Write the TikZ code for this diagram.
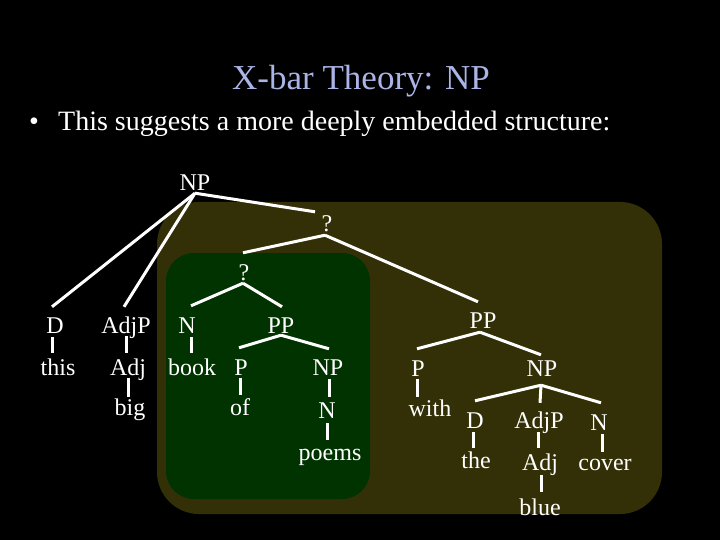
\documentclass[tikz,border=0pt]{standalone}
\usepackage{fontspec}
\setmainfont{Liberation Serif}
\definecolor{olivebox}{RGB}{51,48,8}
\definecolor{greenbox}{RGB}{0,51,0}
\definecolor{titlecol}{RGB}{170,180,230}
\begin{document}
\begin{tikzpicture}[x=1pt,y=-1pt,
  lab/.style={text=white, font=\fontsize{24}{28}\selectfont, inner sep=0pt, text height=16pt, text depth=0pt, anchor=base},
  br/.style={draw=white, line width=3pt}]
\fill[black] (0,0) rectangle (720,540);
\useasboundingbox (0,0) rectangle (720,540);
% boxes
\fill[olivebox, rounded corners=42pt] (157,202) rectangle (662,514);
\fill[greenbox, rounded corners=28pt] (166,253) rectangle (370,499);
% title and bullet
\node[anchor=base, inner sep=0pt, text=titlecol, font=\fontsize{35}{40}\selectfont] (title) at (361,90) {X-bar Theory: NP};
\node[anchor=base, inner sep=0pt, text=white, font=\fontsize{28}{32}\selectfont] (bullet) at (34,131) {\textbullet};
\node[anchor=base west, inner sep=0pt, text=white, font=\fontsize{28}{32}\selectfont] (btext) at (58,131) {This suggests a more deeply embedded structure:};
% tree labels
\node[lab] (np) at (195,191) {NP};
\node[lab] (q1) at (327,232) {?};
\node[lab] (q2) at (244,280) {?};
\node[lab] (d1) at (55,333) {D};
\node[lab] (adjp1) at (126,333) {AdjP};
\node[lab] (n1) at (187,333) {N};
\node[lab] (pp1) at (281,333) {PP};
\node[lab] (this) at (58,375) {this};
\node[lab] (adj1) at (128,375) {Adj};
\node[lab] (book) at (192,375) {book};
\node[lab] (p1) at (241,375) {P};
\node[lab] (np1) at (328,375) {NP};
\node[lab] (big) at (130,415) {big};
\node[lab] (of) at (240,415) {of};
\node[lab] (n2) at (327,418) {N};
\node[lab] (poems) at (330,460) {poems};
\node[lab] (pp2) at (483,328) {PP};
\node[lab] (p2) at (418,376) {P};
\node[lab] (np2) at (542,376) {NP};
\node[lab] (with) at (430,416) {with};
\node[lab] (d2) at (475,428) {D};
\node[lab] (adjp2) at (539,428) {AdjP};
\node[lab] (n3) at (599,430) {N};
\node[lab] (the) at (476,468) {the};
\node[lab] (adj2) at (540,470) {Adj};
\node[lab] (cover) at (605,470) {cover};
\node[lab] (blue) at (540,515) {blue};
% branching edges
\draw[br] ([yshift=-2pt]np.south) -- ([shift={(-3pt,10pt)}]d1.north);
\draw[br] ([yshift=-2pt]np.south) -- ([shift={(-2pt,10pt)}]adjp1.north);
\draw[br] ([yshift=-2pt]np.south) -- ([shift={(-12pt,4pt)}]q1.north);
\draw[br] ([shift={(-2pt,-3pt)}]q1.south) -- ([shift={(-1pt,11pt)}]q2.north);
\draw[br] ([shift={(-2pt,-3pt)}]q1.south) -- ([shift={(-5pt,10pt)}]pp2.north);
\draw[br] ([shift={(-1pt,-3pt)}]q2.south) -- ([shift={(4pt,11pt)}]n1.north);
\draw[br] ([shift={(-1pt,-3pt)}]q2.south) -- ([shift={(1pt,10pt)}]pp1.north);
\draw[br] ([yshift=-2pt]pp1.south) -- ([shift={(-2pt,11pt)}]p1.north);
\draw[br] ([yshift=-2pt]pp1.south) -- ([shift={(1pt,10pt)}]np1.north);
\draw[br] ([shift={(-3pt,-4pt)}]pp2.south) -- ([shift={(-1pt,11pt)}]p2.north);
\draw[br] ([shift={(-3pt,-4pt)}]pp2.south) -- ([shift={(-1pt,5pt)}]np2.north);
\draw[br] ([shift={(-1pt,-9pt)}]np2.south) -- ([shift={(0pt,11pt)}]d2.north);
\draw[br] ([shift={(-1pt,-9pt)}]np2.south) -- ([shift={(1pt,9pt)}]adjp2.north);
\draw[br] ([shift={(-1pt,-9pt)}]np2.south) -- ([shift={(2pt,11pt)}]n3.north);
% unary edges
\draw[br] ([shift={(-3pt,-4pt)}]d1.south) -- ([shift={(-6pt,6pt)}]this.north);
\draw[br] ([shift={(0pt,-3pt)}]adjp1.south) -- ([shift={(-2pt,6pt)}]adj1.north);
\draw[br] ([shift={(0pt,-3pt)}]adj1.south) -- ([shift={(-2pt,2pt)}]big.north);
\draw[br] ([shift={(4pt,-4pt)}]n1.south) -- ([shift={(-1pt,6pt)}]book.north);
\draw[br] ([shift={(-1pt,-3pt)}]p1.south) -- ([shift={(0pt,4pt)}]of.north);
\draw[br] ([shift={(1pt,-4pt)}]np1.south) -- ([shift={(2pt,5pt)}]n2.north);
\draw[br] ([shift={(0pt,-5pt)}]n2.south) -- ([shift={(-3pt,4pt)}]poems.north);
\draw[br] ([shift={(-1pt,-3pt)}]p2.south) -- ([shift={(-13pt,3pt)}]with.north);
\draw[br] ([shift={(-2pt,-4pt)}]d2.south) -- ([shift={(-3pt,4pt)}]the.north);
\draw[br] ([shift={(-1pt,-4pt)}]adjp2.south) -- ([shift={(-2pt,6pt)}]adj2.north);
\draw[br] ([shift={(3pt,-4pt)}]n3.south) -- ([shift={(-3pt,2pt)}]cover.north);
\draw[br] ([shift={(1pt,-5pt)}]adj2.south) -- ([shift={(1pt,7pt)}]blue.north);
\end{tikzpicture}
\end{document}
